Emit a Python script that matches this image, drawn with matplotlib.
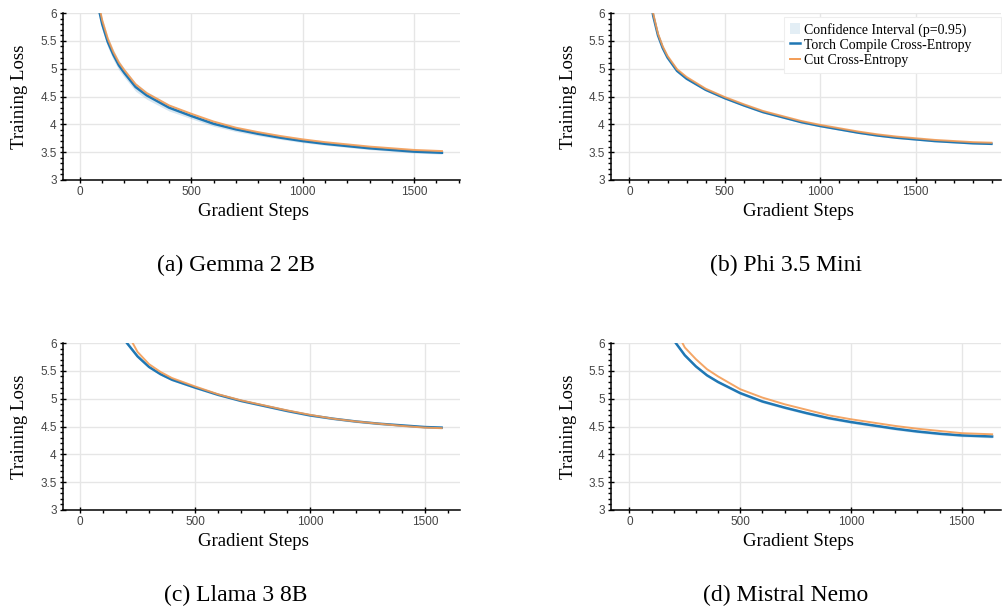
import matplotlib.pyplot as plt
from matplotlib.patches import Patch
from matplotlib.lines import Line2D
from matplotlib.ticker import MultipleLocator

# Training loss curves
steps_a = [0, 50, 75, 100, 125, 150, 175, 200, 250, 300, 400, 500, 600, 700, 800, 900, 1000, 1100, 1200, 1300, 1400, 1500, 1625]
torch_a = [9.5, 6.9, 6.25, 5.8, 5.48, 5.25, 5.06, 4.92, 4.67, 4.52, 4.3, 4.15, 4.01, 3.91, 3.83, 3.76, 3.70, 3.65, 3.61, 3.57, 3.54, 3.51, 3.49]
cce_a = [9.6, 7.0, 6.33, 5.87, 5.54, 5.3, 5.11, 4.97, 4.72, 4.56, 4.34, 4.19, 4.05, 3.94, 3.86, 3.79, 3.73, 3.68, 3.64, 3.60, 3.57, 3.54, 3.52]
ci_a = [0.3, 0.15, 0.12, 0.1, 0.095, 0.09, 0.085, 0.08, 0.075, 0.07, 0.06, 0.05, 0.045, 0.04, 0.035, 0.03, 0.03, 0.025, 0.025, 0.025, 0.025, 0.025, 0.025]

steps_b = [0, 50, 100, 125, 150, 175, 200, 250, 300, 400, 500, 600, 700, 800, 900, 1000, 1100, 1200, 1300, 1400, 1500, 1600, 1700, 1800, 1897]
torch_b = [10.0, 8.2, 6.5, 5.95, 5.6, 5.37, 5.2, 4.96, 4.82, 4.62, 4.47, 4.34, 4.22, 4.13, 4.04, 3.97, 3.91, 3.85, 3.80, 3.76, 3.73, 3.70, 3.68, 3.66, 3.65]
cce_b = [10.1, 8.3, 6.55, 5.99, 5.63, 5.4, 5.23, 4.99, 4.85, 4.64, 4.49, 4.36, 4.24, 4.15, 4.06, 3.99, 3.93, 3.87, 3.82, 3.78, 3.75, 3.72, 3.70, 3.68, 3.67]
ci_b = [0.05, 0.03, 0.02, 0.02, 0.02, 0.015, 0.015, 0.015, 0.015, 0.015, 0.015, 0.015, 0.015, 0.015, 0.015, 0.015, 0.015, 0.015, 0.015, 0.015, 0.015, 0.015, 0.015, 0.015, 0.015]

steps_c = [0, 100, 150, 200, 250, 300, 350, 400, 500, 600, 700, 800, 900, 1000, 1100, 1200, 1300, 1400, 1500, 1572]
torch_c = [10.0, 7.4, 6.6, 6.02, 5.76, 5.57, 5.44, 5.34, 5.2, 5.07, 4.96, 4.87, 4.78, 4.70, 4.64, 4.59, 4.55, 4.52, 4.49, 4.48]
cce_c = [10.3, 7.7, 6.85, 6.22, 5.84, 5.62, 5.48, 5.37, 5.22, 5.08, 4.97, 4.88, 4.79, 4.71, 4.64, 4.59, 4.55, 4.51, 4.48, 4.47]
ci_c = [0.1, 0.05, 0.04, 0.03, 0.025, 0.02, 0.02, 0.02, 0.02, 0.02, 0.02, 0.02, 0.02, 0.02, 0.02, 0.02, 0.02, 0.02, 0.02, 0.02]

steps_d = [0, 100, 150, 200, 250, 300, 350, 400, 500, 600, 700, 800, 900, 1000, 1100, 1200, 1300, 1400, 1500, 1637]
torch_d = [10.0, 7.4, 6.6, 6.05, 5.78, 5.58, 5.42, 5.3, 5.1, 4.95, 4.84, 4.74, 4.65, 4.58, 4.52, 4.46, 4.41, 4.37, 4.34, 4.32]
cce_d = [10.3, 7.7, 6.9, 6.3, 5.92, 5.71, 5.53, 5.4, 5.17, 5.02, 4.9, 4.8, 4.7, 4.63, 4.57, 4.51, 4.46, 4.42, 4.38, 4.36]
ci_d = [0.1, 0.05, 0.04, 0.03, 0.03, 0.025, 0.025, 0.025, 0.025, 0.025, 0.025, 0.025, 0.025, 0.025, 0.025, 0.025, 0.025, 0.025, 0.025, 0.025]

captions = ['(a) Gemma 2 2B', '(b) Phi 3.5 Mini', '(c) Llama 3 8B', '(d) Mistral Nemo']

BLUE = '#1f77b4'
ORANGE = '#f39c55'
SERIF = ['Liberation Serif', 'DejaVu Serif']
SANS = ['Liberation Sans', 'DejaVu Sans']

fig = plt.figure(figsize=(10.02, 6.06), dpi=100)

# axes rectangles in figure fractions
rects = [
    [63 / 1002, 1 - 180 / 606, 397 / 1002, 167 / 606],
    [611 / 1002, 1 - 180 / 606, 390 / 1002, 167 / 606],
    [63 / 1002, 1 - 510 / 606, 397 / 1002, 167 / 606],
    [611 / 1002, 1 - 510 / 606, 390 / 1002, 167 / 606],
]
xlims = [(-76, 1706), (-96, 1947), (-74, 1652), (-83, 1677)]
data = [
    (steps_a, torch_a, cce_a, ci_a),
    (steps_b, torch_b, cce_b, ci_b),
    (steps_c, torch_c, cce_c, ci_c),
    (steps_d, torch_d, cce_d, ci_d),
]

for i in range(4):
    ax = fig.add_axes(rects[i])
    s, t, c, w = data[i]
    lo = [a - b for a, b in zip(t, w)]
    hi = [a + b for a, b in zip(t, w)]
    ax.fill_between(s, lo, hi, color=BLUE, alpha=0.18, lw=0)
    ax.plot(s, t, color=BLUE, lw=1.8)
    ax.plot(s, c, color=ORANGE, lw=1.4, alpha=0.9)

    ax.set_xlim(*xlims[i])
    ax.set_ylim(3, 6)
    ax.xaxis.set_major_locator(MultipleLocator(500))
    ax.xaxis.set_minor_locator(MultipleLocator(100))
    ax.yaxis.set_major_locator(MultipleLocator(0.5))
    ax.yaxis.set_minor_locator(MultipleLocator(0.1))
    ax.yaxis.set_major_formatter(plt.FuncFormatter(lambda v, p: ('%g' % v)))
    ax.grid(True, which='major', color='#e6e6e6', lw=1)
    ax.set_axisbelow(True)
    for sp in ['top', 'right']:
        ax.spines[sp].set_visible(False)
    for sp in ['left', 'bottom']:
        ax.spines[sp].set_linewidth(1.1)
        ax.spines[sp].set_color('black')
    ax.tick_params(which='major', direction='inout', length=5, width=1, labelsize=8.5,
                   labelcolor='#444444', pad=2)
    ax.tick_params(which='minor', direction='out', length=2.5, width=1)
    for lab in ax.get_xticklabels() + ax.get_yticklabels():
        lab.set_family(SANS)

    ax.set_xlabel('Gradient Steps', family=SERIF, fontsize=13.5)
    ax.set_ylabel('Training Loss', family=SERIF, fontsize=13.5)
    ax.xaxis.set_label_coords(0.48, -0.14)
    ax.yaxis.set_label_coords(-0.088, 0.5)

    if i == 1:
        handles = [Patch(facecolor=BLUE, alpha=0.12, edgecolor='none'),
                   Line2D([], [], color=BLUE, lw=1.8),
                   Line2D([], [], color=ORANGE, lw=1.4)]
        labels = ['Confidence Interval (p=0.95)', 'Torch Compile Cross-Entropy', 'Cut Cross-Entropy']
        leg = ax.legend(handles, labels, loc='upper left', bbox_to_anchor=(0.4436, 0.0, 0.5564, 0.976),
                        mode='expand', prop={'family': SERIF, 'size': 10}, frameon=True, fancybox=False,
                        edgecolor='#eeeeee', framealpha=1, handlelength=0.75, handleheight=0.9,
                        handletextpad=0.3, labelspacing=0.12, borderpad=0.4, borderaxespad=0.0)
        leg.get_frame().set_linewidth(0.8)

cap_x = [236 / 1002, 786 / 1002, 236 / 1002, 786 / 1002]
cap_y = [1 - 265 / 606, 1 - 265 / 606, 1 - 595 / 606, 1 - 595 / 606]
for i in range(4):
    fig.text(cap_x[i], cap_y[i], captions[i], ha='center', va='center', family=SERIF, fontsize=17)

fig.savefig('out.png', dpi=100)
